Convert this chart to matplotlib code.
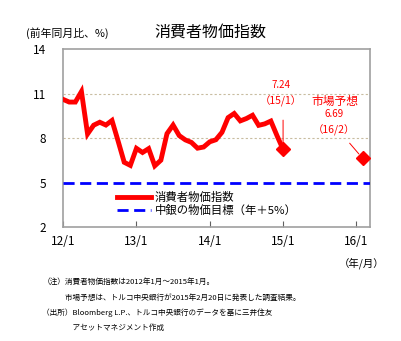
import numpy as np
import matplotlib
matplotlib.use("Agg")
import matplotlib.pyplot as plt

plt.rcParams['font.family'] = ['Noto Sans CJK JP', 'DejaVu Sans']

# monthly CPI y/y (%) 2012/1 - 2015/1, month index counted from 2012/1
cpi = [10.61, 10.43, 10.43, 11.14, 8.28, 8.87, 9.07, 8.88, 9.19, 7.80, 6.37, 6.16,
       7.31, 7.03, 7.29, 6.13, 6.51, 8.30, 8.88, 8.17, 7.88, 7.71, 7.32, 7.40,
       7.75, 7.89, 8.39, 9.38, 9.66, 9.16, 9.32, 9.54, 8.86, 8.96, 9.15, 8.17,
       7.24]
months = np.arange(len(cpi))

forecast_month = 49   # 16/2
forecast_value = 6.69
target = 5

xticks = [0, 12, 24, 36, 48]
xlabels = ["12/1", "13/1", "14/1", "15/1", "16/1"]
yticks = [2, 5, 8, 11, 14]

red = "#ff0000"
blue = "#0000ff"
frame = "#a0a0a0"

fig = plt.figure(figsize=(4.02, 3.41), dpi=100)
ax = fig.add_axes([0.157, 0.334, 0.763, 0.522])

ax.plot(months, cpi, color=red, lw=3.5, solid_joinstyle="miter", label="消費者物価指数", zorder=4)
ax.plot(months[-1], cpi[-1], marker="D", ms=7, color=red, zorder=5)
ax.plot(forecast_month, forecast_value, marker="D", ms=7, color=red, zorder=5)
ax.axhline(target, color=blue, lw=2.0, dashes=(4, 2), label="中銀の物価目標（年＋5%）", zorder=3)

for g in [8, 11]:
    ax.axhline(g, color="#c8bca0", lw=0.8, ls=(0, (2, 2)), zorder=1)

ax.set_xlim(0, 50.2)
ax.set_ylim(2, 14)
ax.set_xticks(xticks)
ax.set_xticklabels(xlabels, fontsize=8.5)
ax.set_yticks(yticks)
ax.set_yticklabels([str(v) for v in yticks], fontsize=8.5)
ax.tick_params(axis="x", direction="in", length=4, color="#606060", pad=6)
ax.tick_params(axis="y", length=0, pad=12)
for s in ax.spines.values():
    s.set_color(frame)
    s.set_linewidth(1.2)

# annotations for latest value and market forecast
ax.annotate("", xy=(months[-1], cpi[-1] + 0.1), xytext=(months[-1], 9.4),
            arrowprops=dict(arrowstyle="-", color=red, lw=0.7))
ax.text(months[-1] - 0.3, 11.55, f"{cpi[-1]:.2f}", color=red, fontsize=7, ha="center", va="center")
ax.text(months[-1] - 0.3, 10.5, "（15/1）", color=red, fontsize=7.5, ha="center", va="center")
ax.annotate("", xy=(forecast_month - 0.3, forecast_value + 0.1), xytext=(forecast_month - 2.4, 7.8),
            arrowprops=dict(arrowstyle="-", color=red, lw=0.7))
ax.text(44.4, 10.45, "市場予想", color=red, fontsize=8.5, ha="center", va="center")
ax.text(44.4, 9.6, f"{forecast_value:.2f}", color=red, fontsize=7, ha="center", va="center")
ax.text(44.4, 8.55, "（16/2）", color=red, fontsize=7.5, ha="center", va="center")

leg = ax.legend(loc="lower left", bbox_to_anchor=(0.15, 0.02), frameon=False, fontsize=8.2,
                handlelength=3.0, handletextpad=0.3, labelspacing=0.15, borderpad=0.2)

fig.text(0.523, 0.906, "消費者物価指数", fontsize=11.5, ha="center", va="center")
fig.text(0.065, 0.903, "(前年同月比、%)", fontsize=7.8, ha="left", va="center")
fig.text(0.955, 0.228, "（年/月）", fontsize=7.5, ha="right", va="center")

notes = ["（注）消費者物価指数は2012年1月～2015年1月。",
         "　　　市場予想は、トルコ中央銀行が2015年2月20日に発表した調査結果。",
         "（出所）Bloomberg L.P.、トルコ中央銀行のデータを基に三井住友",
         "　　　　アセットマネジメント作成"]
for i, line in enumerate(notes):
    fig.text(0.105, 0.172 - i * 0.045, line, fontsize=5.5, ha="left", va="center")

fig.savefig("out.png", dpi=100)
